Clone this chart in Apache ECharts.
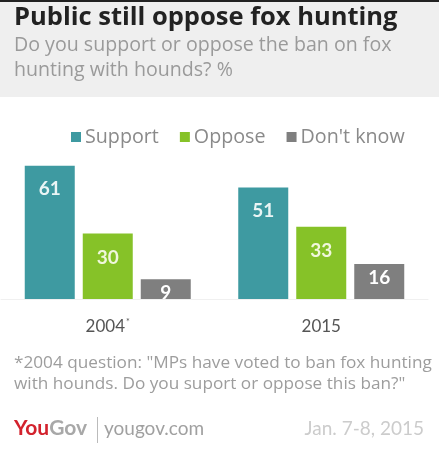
<!DOCTYPE html>
<html><head><meta charset="utf-8">
<script src="https://cdn.jsdelivr.net/npm/echarts@6/dist/echarts.min.js"></script>
<style>html,body{margin:0;padding:0;background:#fff}#c{width:439px;height:455px}</style>
</head><body><div id="c"></div>
<script>
const categories = ['2004', '2015'];
const supportValues = [61, 51];
const opposeValues = [30, 33];
const dontKnowValues = [9, 16];
const seriesNames = ['Support', 'Oppose', "Don't know"];

const FONT = 'Lato';
const SANS = '"Open Sans"';
const chart = echarts.init(document.getElementById('c'), null, {renderer: 'canvas'});

function labelCfg(color, dist) {
  return {show: true, position: 'insideTop', distance: dist, color: color,
    fontFamily: FONT, fontWeight: 'bold', fontSize: 19};
}

chart.setOption({
  animation: false,
  backgroundColor: '#ffffff',
  graphic: [
    {type: 'rect', left: 0, top: 0, shape: {width: 439, height: 2}, style: {fill: '#222'}},
    {type: 'rect', left: 0, top: 2, shape: {width: 439, height: 95}, style: {fill: '#efefef'}},
    {type: 'text', left: 14, top: 5, style: {text: 'Public still oppose fox hunting', fill: '#222',
      font: 'bold 25.5px ' + SANS}},
    {type: 'text', left: 14, top: 33, style: {text: 'Do you support or oppose the ban on fox\nhunting with hounds? %',
      fill: '#9a9a9a', font: '19.6px ' + SANS, lineHeight: 25}},
    {type: 'text', left: 14, top: 353, style: {text: '*2004 question: "MPs have voted to ban fox hunting\nwith hounds. Do you suport or oppose this ban?"',
      fill: '#9d9d9d', font: '17.2px ' + SANS, lineHeight: 21}},
    {type: 'text', left: 14, top: 418, style: {
      text: '{r|You}{g|Gov}',
      rich: {r: {fill: '#d3222d', font: 'bold 21px ' + FONT}, g: {fill: '#a8a8a8', font: 'bold 21px ' + FONT}}}},
    {type: 'rect', left: 97, top: 417, shape: {width: 1, height: 26}, style: {fill: '#bbb'}},
    {type: 'text', left: 104, top: 419, style: {text: 'yougov.com', fill: '#a0a0a0', font: '19px ' + FONT}},
    {type: 'text', right: 15, top: 419, style: {text: 'Jan. 7-8, 2015', fill: '#cccccc', font: '19px ' + FONT}}
  ],
  legend: {
    data: seriesNames, left: 66, top: 122, icon: 'rect', itemWidth: 10, itemHeight: 10, itemGap: 21,
    textStyle: {color: '#8a8a8a', fontFamily: 'Open Sans', fontSize: 19.7, padding: [0, 0, 0, -1]}
  },
  grid: {left: 1, right: 11, top: 146, bottom: 156, containLabel: false},
  xAxis: {
    type: 'category', data: categories,
    axisLine: {show: true, lineStyle: {color: '#f0f0f0', width: 1}},
    axisTick: {show: false},
    axisLabel: {margin: 19, color: '#555', fontFamily: FONT, fontSize: 17,
      formatter: function (v) { return v === '2004' ? '{a|2004}{s|*}' : '{a|' + v + '}'; },
      rich: {a: {color: '#555', fontFamily: FONT, fontSize: 17},
             s: {color: '#555', fontFamily: FONT, fontSize: 9, verticalAlign: 'top', padding: [0, 0, 8, 1]}}}
  },
  yAxis: {type: 'value', min: 0, max: 70, show: false, splitLine: {show: false}},
  series: [
    {name: seriesNames[0], type: 'bar', data: supportValues, barWidth: 50, barGap: '16%',
      itemStyle: {color: '#3e9aa1'}, label: labelCfg('#eaf5f5', 14)},
    {name: seriesNames[1], type: 'bar', data: opposeValues, barWidth: 50, barGap: '16%',
      itemStyle: {color: '#86c228'}, label: labelCfg('#f0f7dc', 15)},
    {name: seriesNames[2], type: 'bar', data: dontKnowValues, barWidth: 50, barGap: '16%',
      itemStyle: {color: '#7f7f7f'}, label: labelCfg('#ffffff', 4)}
  ]
});
</script></body></html>
